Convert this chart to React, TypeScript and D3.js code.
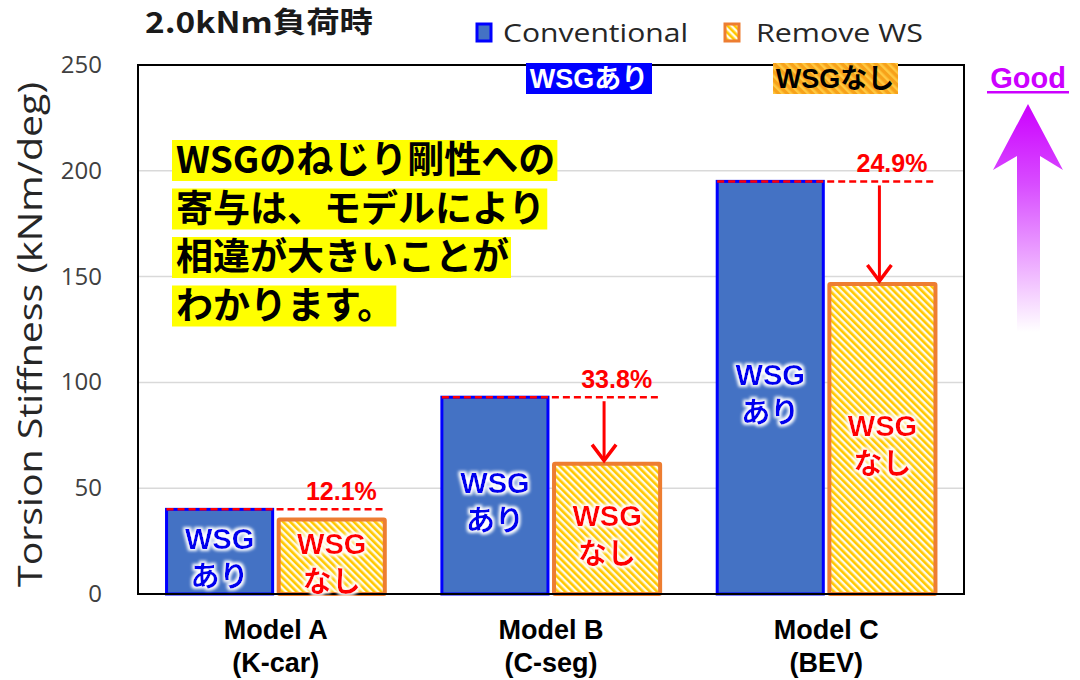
import React, { useEffect, useRef } from "react";
import * as d3 from "d3";

const categories = ["Model A", "Model B", "Model C"];
const subLabels = ["(K-car)", "(C-seg)", "(BEV)"];
const seriesNames = ["Conventional", "Remove WS"];
const conventional = [40.0, 93.0, 195.0];
const removeWS = [35.2, 61.6, 146.5];
const reductionLabels = ["12.1%", "33.8%", "24.9%"];
const showArrow = [false, true, true];
const yTicks = [0, 50, 100, 150, 200, 250];
const noteLines = ["WSGのねじり剛性への", "寄与は、モデルにより", "相違が大きいことが", "わかります。"];
const titleText = "2.0kNm負荷時";
const yAxisTitle = "Torsion Stiffness (kNm/deg)";
const convBarLabel = ["WSG", "あり"];
const remBarLabel = ["WSG", "なし"];

const W = 1080, H = 680;
const M = { left: 138, right: 964, top: 65, bottom: 594 };
const BOLD = "'Liberation Sans', 'Noto Sans CJK JP', sans-serif";
const JP = "'Noto Sans CJK JP', sans-serif";
const LIGHT = "'Open Sans', 'Noto Sans', sans-serif";

export default function App() {
  const ref = useRef<SVGSVGElement>(null);

  useEffect(() => {
    const svg = d3.select(ref.current);
    svg.selectAll("*").remove();

    const defs = svg.append("defs");
    const pat = defs.append("pattern")
      .attr("id", "hatch").attr("patternUnits", "userSpaceOnUse")
      .attr("width", 5).attr("height", 5).attr("patternTransform", "rotate(-45)");
    pat.append("rect").attr("width", 5).attr("height", 5).attr("fill", "#fffbe6");
    pat.append("rect").attr("width", 2.6).attr("height", 5).attr("fill", "#ffc800");

    const pat2 = defs.append("pattern")
      .attr("id", "hatch2").attr("patternUnits", "userSpaceOnUse")
      .attr("width", 6).attr("height", 6).attr("patternTransform", "rotate(-45)");
    pat2.append("rect").attr("width", 6).attr("height", 6).attr("fill", "#f7a21a");
    pat2.append("rect").attr("width", 2.5).attr("height", 6).attr("fill", "#ffc840");

    const grad = defs.append("linearGradient").attr("id", "goodGrad")
      .attr("x1", 0).attr("y1", 0).attr("x2", 0).attr("y2", 1);
    grad.append("stop").attr("offset", "0%").attr("stop-color", "#cc00ff");
    grad.append("stop").attr("offset", "35%").attr("stop-color", "#d84cff");
    grad.append("stop").attr("offset", "100%").attr("stop-color", "#ffffff");

    const glow = defs.append("filter").attr("id", "glow")
      .attr("x", "-20%").attr("y", "-20%").attr("width", "140%").attr("height", "140%");
    glow.append("feMorphology").attr("in", "SourceAlpha").attr("operator", "dilate").attr("radius", 2).attr("result", "d");
    glow.append("feGaussianBlur").attr("in", "d").attr("stdDeviation", 1.5).attr("result", "b");
    glow.append("feFlood").attr("flood-color", "#ffffff").attr("result", "w");
    glow.append("feComposite").attr("in", "w").attr("in2", "b").attr("operator", "in").attr("result", "g");
    const fm = glow.append("feMerge");
    fm.append("feMergeNode").attr("in", "g");
    fm.append("feMergeNode").attr("in", "SourceGraphic");

    const x = d3.scaleBand<string>().domain(categories).range([M.left, M.right]).padding(0);
    const xs = d3.scaleBand<string>().domain(seriesNames).range([0, x.bandwidth()])
      .paddingInner(0.054).paddingOuter(0.2545);
    const y = d3.scaleLinear().domain([0, 250]).range([M.bottom, M.top]);

    svg.append("rect").attr("width", W).attr("height", H).attr("fill", "#ffffff");

    svg.append("g").selectAll("line").data(yTicks.filter(t => t > 0 && t < 250)).join("line")
      .attr("x1", M.left).attr("x2", M.right)
      .attr("y1", d => y(d)).attr("y2", d => y(d))
      .attr("stroke", "#d9d9d9").attr("stroke-width", 1.5);

    svg.append("g").selectAll("text").data(yTicks).join("text")
      .attr("x", 102).attr("y", d => y(d) + 8)
      .attr("text-anchor", "end")
      .attr("font-family", LIGHT).attr("font-size", 24).attr("fill", "#404040")
      .text(d => d);

    svg.append("text")
      .attr("transform", `translate(42,${(M.top + M.bottom) / 2 + 5}) rotate(-90)`)
      .attr("text-anchor", "middle")
      .attr("font-family", LIGHT).attr("font-size", 33).attr("fill", "#262626")
      .attr("textLength", 505).attr("lengthAdjust", "spacingAndGlyphs")
      .text(yAxisTitle);

    const gBars = svg.append("g");
    categories.forEach((c, i) => {
      const x0 = x(c)!;
      const cx = x0 + xs("Conventional")!;
      const rx = x0 + xs("Remove WS")!;
      const bw = xs.bandwidth();
      gBars.append("rect")
        .attr("x", cx).attr("y", y(conventional[i])).attr("width", bw)
        .attr("height", y(0) - y(conventional[i]))
        .attr("fill", "#4472c4").attr("stroke", "#0000ff").attr("stroke-width", 3);
      gBars.append("rect")
        .attr("x", rx).attr("y", y(removeWS[i])).attr("width", bw)
        .attr("height", y(0) - y(removeWS[i]))
        .attr("fill", "url(#hatch)").attr("stroke", "#ed7d31").attr("stroke-width", 4)
        .attr("rx", 1);
    });

    svg.append("rect").attr("x", M.left).attr("y", M.top)
      .attr("width", M.right - M.left).attr("height", M.bottom - M.top)
      .attr("fill", "none").attr("stroke", "#000").attr("stroke-width", 2);

    categories.forEach((c, i) => {
      const x0 = x(c)!;
      const bw = xs.bandwidth();
      const cxm = x0 + xs("Conventional")! + bw / 2;
      const rxm = x0 + xs("Remove WS")! + bw / 2;
      const cm = (y(conventional[i]) + y(0)) / 2 + 6;
      const rm = (y(removeWS[i]) + y(0)) / 2 + 6;
      [[convBarLabel, cxm, cm, "#0000ee"], [remBarLabel, rxm, rm, "#ff0000"]].forEach(([lab, xm, ym, col]: any) => {
        lab.forEach((t: string, k: number) => {
          svg.append("text")
            .attr("x", xm).attr("y", ym - 19 + k * 38 + 10)
            .attr("text-anchor", "middle")
            .attr("font-family", BOLD).attr("font-weight", "bold")
            .attr("font-size", 29).attr("fill", col)
            .attr("filter", "url(#glow)")
            .text(t);
        });
      });
    });

    categories.forEach((c, i) => {
      const x0 = x(c)!;
      const bw = xs.bandwidth();
      const lx1 = x0 + xs("Conventional")!;
      const lx2 = x0 + xs("Remove WS")! + bw;
      const ly = y(conventional[i]);
      svg.append("line").attr("x1", lx1).attr("x2", lx2).attr("y1", ly).attr("y2", ly)
        .attr("stroke", "#ff0000").attr("stroke-width", 2.5).attr("stroke-dasharray", "7,4");
      svg.append("text")
        .attr("x", lx2 - 8).attr("y", ly - 9)
        .attr("text-anchor", "end")
        .attr("font-family", BOLD).attr("font-weight", "bold")
        .attr("font-size", 25).attr("fill", "#ff0000")
        .text(reductionLabels[i]);
      if (showArrow[i]) {
        const ax = x0 + xs("Remove WS")! + bw / 2 - 3;
        const y1 = ly + 4, y2 = y(removeWS[i]) - 3;
        svg.append("line").attr("x1", ax).attr("x2", ax).attr("y1", y1).attr("y2", y2)
          .attr("stroke", "#ff0000").attr("stroke-width", 3);
        svg.append("path")
          .attr("d", `M${ax - 12},${y2 - 16} L${ax},${y2} L${ax + 12},${y2 - 16}`)
          .attr("fill", "none").attr("stroke", "#ff0000").attr("stroke-width", 3.5)
          .attr("stroke-linejoin", "miter");
      }
    });

    categories.forEach((c, i) => {
      const xm = x(c)! + x.bandwidth() / 2;
      svg.append("text").attr("x", xm).attr("y", 639).attr("text-anchor", "middle")
        .attr("font-family", BOLD).attr("font-weight", "bold").attr("font-size", 27)
        .attr("fill", "#000").text(c);
      svg.append("text").attr("x", xm).attr("y", 672).attr("text-anchor", "middle")
        .attr("font-family", BOLD).attr("font-weight", "bold").attr("font-size", 27)
        .attr("fill", "#000").text(subLabels[i]);
    });

    const gNote = svg.append("g");
    noteLines.forEach((t, k) => {
      const by = 173 + k * 48.5;
      const r = gNote.append("rect").attr("fill", "#ffff00");
      const tx = gNote.append("text").attr("x", 176).attr("y", by)
        .attr("font-family", JP).attr("font-weight", "bold").attr("font-size", 37)
        .attr("fill", "#000").text(t);
      const len = (tx.node() as SVGTextElement).getComputedTextLength();
      r.attr("x", 172).attr("y", by - 33).attr("width", len + 6).attr("height", 41);
    });

    svg.append("text").attr("x", 145).attr("y", 33)
      .attr("font-family", JP).attr("font-weight", "bold").attr("font-size", 29)
      .attr("fill", "#1a1a1a")
      .attr("textLength", 228).attr("lengthAdjust", "spacingAndGlyphs")
      .text(titleText);

    svg.append("rect").attr("x", 477).attr("y", 24).attr("width", 14).attr("height", 17)
      .attr("fill", "#4472c4").attr("stroke", "#0000ff").attr("stroke-width", 3);
    svg.append("text").attr("x", 503).attr("y", 42)
      .attr("font-family", LIGHT).attr("font-size", 26).attr("fill", "#262626")
      .attr("textLength", 185).attr("lengthAdjust", "spacingAndGlyphs")
      .text(seriesNames[0]);
    svg.append("rect").attr("x", 725).attr("y", 24).attr("width", 14).attr("height", 17)
      .attr("fill", "url(#hatch)").attr("stroke", "#ed7d31").attr("stroke-width", 3);
    svg.append("text").attr("x", 756).attr("y", 42)
      .attr("font-family", LIGHT).attr("font-size", 26).attr("fill", "#262626")
      .attr("textLength", 167).attr("lengthAdjust", "spacingAndGlyphs")
      .text(seriesNames[1]);

    svg.append("rect").attr("x", 526).attr("y", 63).attr("width", 126).attr("height", 31).attr("fill", "#0000ff");
    svg.append("text").attr("x", 589).attr("y", 88).attr("text-anchor", "middle")
      .attr("font-family", BOLD).attr("font-weight", "bold").attr("font-size", 27)
      .attr("fill", "#ffffff").text("WSGあり");
    svg.append("rect").attr("x", 773).attr("y", 63).attr("width", 125).attr("height", 31).attr("fill", "url(#hatch2)");
    svg.append("text").attr("x", 835).attr("y", 88).attr("text-anchor", "middle")
      .attr("font-family", BOLD).attr("font-weight", "bold").attr("font-size", 27)
      .attr("fill", "#000000").text("WSGなし");

    svg.append("text").attr("x", 1028).attr("y", 88).attr("text-anchor", "middle")
      .attr("font-family", BOLD).attr("font-weight", "bold").attr("font-size", 29)
      .attr("fill", "#cc00ff").text("Good");
    svg.append("rect").attr("x", 987).attr("y", 91).attr("width", 82).attr("height", 2.5).attr("fill", "#cc00ff");
    svg.append("path")
      .attr("d", "M1028,104 L1063,170 L1040,156 L1040,332 L1017,332 L1017,156 L993,170 Z")
      .attr("fill", "url(#goodGrad)");
  }, []);

  return (
    <div style={{ position: "absolute", left: 0, top: 0 }}>
      <svg ref={ref} width={W} height={H} style={{ display: "block" }} />
    </div>
  );
}
